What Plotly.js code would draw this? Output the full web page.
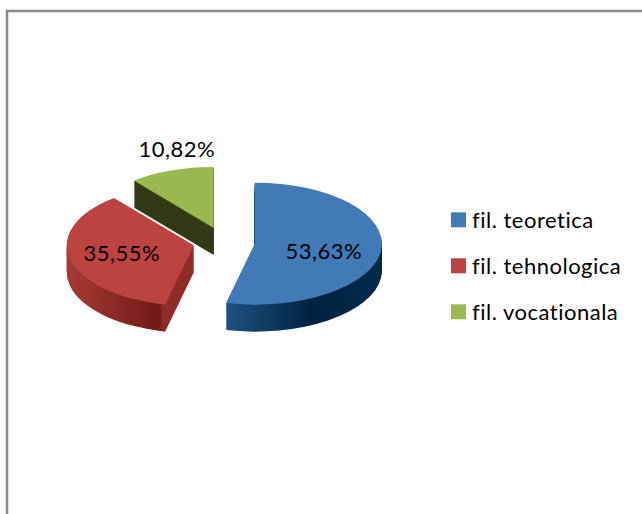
<!DOCTYPE html>
<html>
<head>
<meta charset="utf-8">
<script src="https://cdn.plot.ly/plotly-3.0.1.min.js"></script>
<style>
html,body{margin:0;padding:0;background:#fff}
#c{width:642px;height:514px}
#c text{letter-spacing:.5px;font-variant-ligatures:none}
</style>
</head>
<body>
<div id="c"></div>
<script>
var categories = ["fil. teoretica", "fil. tehnologica", "fil. vocationala"];
var shares = [53.63, 35.55, 10.82];
var topColors = ["#427ab8", "#bc4340", "#9aba4f"];
var wallColors = ["#0f3a63", "#8f2c27", "#333a15"];
var labelFont = "Lato, Carlito, sans-serif";

var W = 642, H = 514;
var CX = 224, CY = 242;      // pie centre on the page
var RADIUS = 127, PULL = 0.244, TILT = 0.48, DEPTH = 27;
var SIZE = 2 * RADIUS * (1 + PULL);

function pie(colors, isTop) {
  return {
    type: "pie", labels: categories, values: shares, sort: false,
    direction: "clockwise", rotation: 0, pull: PULL,
    marker: {colors: colors, line: {width: 0}},
    textinfo: "none", hoverinfo: "label+percent", showlegend: isTop,
    domain: {x: [(CX - SIZE / 2) / W, (CX + SIZE / 2) / W],
             y: [(H / 2 - SIZE / 2) / H, (H / 2 + SIZE / 2) / H]}
  };
}

var traces = [];
for (var i = DEPTH; i > 0; i--) traces.push(pie(wallColors, false));
traces.push(pie(topColors, true));

function pct(v) { return v.toFixed(2).replace(".", ",") + "%"; }
var labelPos = [[324, 250], [122, 252], [177, 148]];
var annotations = shares.map(function (v, i) {
  return {text: pct(v), xref: "paper", yref: "paper", showarrow: false,
          x: labelPos[i][0] / W, y: 1 - labelPos[i][1] / H,
          xanchor: "center", yanchor: "middle",
          font: {family: labelFont, size: 22, color: "#000"}};
});

var layout = {
  width: W, height: H, margin: {l: 0, r: 0, t: 0, b: 0},
  paper_bgcolor: "#fff", plot_bgcolor: "#fff",
  annotations: annotations,
  shapes: [{type: "path", xref: "paper", yref: "paper",
            path: "M " + 7 / W + " 0 L " + 7 / W + " " + (1 - 11 / H) + " L 1 " + (1 - 11 / H),
            line: {color: "#8a8a8a", width: 2.5}}],
  legend: {x: 432 / W, y: 1 - 199 / H, xanchor: "left", yanchor: "top",
           bgcolor: "rgba(0,0,0,0)", font: {family: labelFont, size: 22, color: "#000"}}
};

var rowGap = 46;

function adjust(gd) {
  var NS = "http://www.w3.org/2000/svg";
  var defs = gd.querySelector(".main-svg defs");
  function grad(id, stops) {
    var g = document.createElementNS(NS, "linearGradient");
    g.setAttribute("id", id);
    stops.forEach(function (s) {
      var st = document.createElementNS(NS, "stop");
      st.setAttribute("offset", s[0]); st.setAttribute("stop-color", s[1]);
      g.appendChild(st);
    });
    defs.appendChild(g);
  }
  grad("wall0", [[0, "#1d5283"], [0.55, "#00213f"], [1, "#002a4a"]]);
  grad("wall1", [[0, "#a83a35"], [0.73, "#6f1a14"], [0.76, "#8f2c27"], [1, "#8f2c27"]]);

  // lay the flat pies down: flatten each layer and lower it to make the side wall
  gd.querySelectorAll(".pielayer .trace").forEach(function (g, n) {
    var drop = DEPTH - n;
    var ty = CY + drop - TILT * H / 2;
    g.setAttribute("transform", "matrix(1 0 0 " + TILT + " 0 " + ty + ")");
    if (drop > 0) {
      var s = g.querySelectorAll(".slice path.surface");
      if (s[0]) s[0].style.fill = "url(#wall0)";
      if (s[1]) s[1].style.fill = "url(#wall1)";
    }
  });

  // spread the legend rows and let them run past the computed legend box
  var sb = gd.querySelector(".legend .scrollbox");
  if (sb) sb.removeAttribute("clip-path");
  var base = 0;
  gd.querySelectorAll(".legend .traces").forEach(function (t, n) {
    if (n === 0) {
      var m = /translate\(\s*[-\d.]+\s*,\s*([-\d.]+)/.exec(t.getAttribute("transform") || "");
      base = m ? parseFloat(m[1]) : 14;
    }
    t.setAttribute("transform", "translate(0," + (base + n * rowGap) + ")");
    var p = t.querySelector(".legendpoints path");
    if (p) p.setAttribute("transform", "translate(26.5,0) scale(1.25)");
  });
}

var gd = document.getElementById("c");
Plotly.newPlot(gd, traces, layout, {displayModeBar: false}).then(function () { adjust(gd); });
</script>
</body>
</html>
